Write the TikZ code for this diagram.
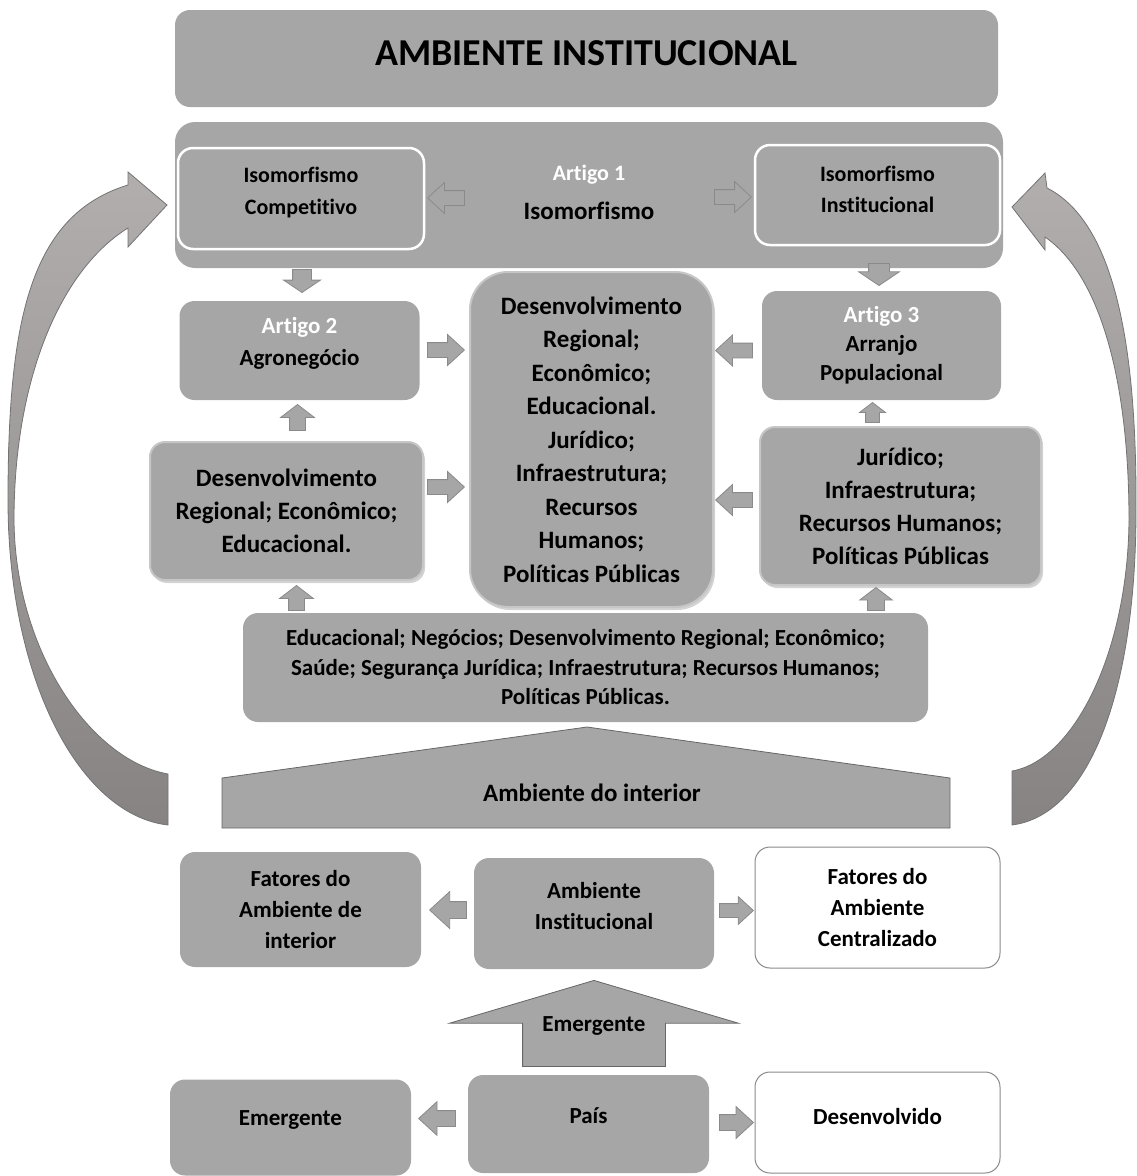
\documentclass[tikz,border=0pt]{standalone}
\usepackage{fontspec}
\setmainfont{Carlito}[Ligatures={NoCommon,NoContextual}]
\usetikzlibrary{shapes.arrows,shadows,positioning}

\definecolor{cinza}{HTML}{A6A6A6}
\definecolor{cinzaborda}{HTML}{8A8A8A}
\definecolor{cinzaseta}{HTML}{878383}
\definecolor{cinzasetaclaro}{HTML}{B2AEAE}

\newcommand{\fonte}[2]{\bfseries\fontsize{#1}{#2}\selectfont}

\tikzset{
  caixa/.style={fill=cinza, rounded corners=15pt, inner sep=0pt, align=center, font=\fonte{23}{31}},
  caixabranca/.style={caixa, fill=white, draw=cinzaborda, line width=1pt},
  caixaiso/.style={caixa, draw=white, line width=2.5pt},
  caixabisel/.style={caixa, draw=gray!45, line width=2pt,
    drop shadow={shadow xshift=2pt, shadow yshift=-3pt, opacity=.35}},
  seta/.style={single arrow, anchor=tip, fill=cinza, draw=cinzaborda, line width=.8pt, inner xsep=0pt, inner ysep=7pt,
    minimum width=0pt, minimum height=37pt, single arrow head extend=8pt, single arrow tip angle=85},
  setav/.style={seta, minimum height=25pt, inner ysep=7.5pt, single arrow head extend=9pt, single arrow tip angle=105},
  setacurva/.style={top color=cinzasetaclaro, bottom color=cinzaseta, draw=gray!90!black, line width=.8pt}
}

\begin{document}
\begin{tikzpicture}[x=1pt,y=-1pt]

\useasboundingbox (0,0) rectangle (1137,1176);

% Ambiente institucional
\node[caixa, minimum width=823pt, minimum height=97pt, font=\fonte{38}{40}, text depth=11pt] (titulo) at (586.5,58.5) {AMBIENTE INSTITUCIONAL};

% Artigo 1
\node[caixa, rounded corners=20pt, minimum width=828pt, minimum height=146pt] (iso) at (589,195) {};
\node[caixaiso, minimum width=246pt, minimum height=101pt, font=\fonte{22}{32}, text depth=16pt] (isocomp) at (301,198.5) {Isomorfismo\\Competitivo};
\node[caixaiso, minimum width=245pt, minimum height=100pt, font=\fonte{22}{31}, text depth=11pt] (isoinst) at (877.5,195) {Isomorfismo\\Institucional};
\node[align=center, font=\fonte{25}{30}, inner sep=0pt] (art1) at (589,192) {{\fontsize{22}{30}\selectfont\color{white}Artigo 1}\\[9pt]Isomorfismo};
\node[seta, rotate=180] (s1) at (427,198) {};
\node[seta] (s2) at (752,197) {};

\node[setav, rotate=-90, minimum height=23pt, inner ysep=9pt, single arrow tip angle=112] (s3) at (302,293) {};
\node[setav, rotate=-90, minimum height=22pt, inner ysep=10pt, single arrow head extend=10pt, single arrow tip angle=112] (s4) at (879,286) {};

% Artigos 2 e 3
\node[caixa, minimum width=240pt, minimum height=99pt, font=\fonte{23}{32}, text depth=18.5pt] (agro) at (299.5,350.5) {\textcolor{white}{Artigo 2}\\Agronegócio};
\node[caixabisel, rounded corners=38pt, minimum width=243pt, minimum height=335pt, font=\fonte{25}{33.5}] (centro) at (591.5,439.5)
  {Desenvolvimento\\Regional;\\Econômico;\\Educacional.\\Jurídico;\\Infraestrutura;\\Recursos\\Humanos;\\Políticas Públicas};
\node[caixa, minimum width=239pt, minimum height=109pt, font=\fonte{23}{29}] (arranjo) at (881.5,345.5) {\textcolor{white}{Artigo 3}\\Arranjo\\Populacional};

\node[caixabisel, minimum width=273pt, minimum height=138pt, font=\fonte{25}{33}] (esq) at (286.5,511) {Desenvolvimento\\Regional; Econômico;\\Educacional.};
\node[caixabisel, minimum width=281pt, minimum height=158pt, font=\fonte{25}{33}] (dir) at (900.5,506) {Jurídico;\\Infraestrutura;\\Recursos Humanos;\\Políticas Públicas};

\node[seta] (s5) at (465,350) {};
\node[seta] (s6) at (465,487) {};
\node[seta, rotate=180] (s7) at (715,350.5) {};
\node[seta, rotate=180] (s8) at (715,500) {};

\node[setav, rotate=90, minimum height=26pt] (s9) at (297.5,404) {};
\node[setav, rotate=90, minimum height=20pt, inner ysep=6.5pt, single arrow head extend=6pt] (s10) at (872.5,402) {};
\node[setav, rotate=90] (s11) at (296.5,585) {};
\node[setav, rotate=90, minimum height=23pt, inner ysep=8pt, single arrow head extend=8pt] (s12) at (876,587) {};

\node[caixa, minimum width=685pt, minimum height=109pt, font=\fonte{23}{29.5}] (largo) at (585.5,667.5)
  {Educacional; Negócios; Desenvolvimento Regional; Econômico;\\Saúde; Segurança Jurídica; Infraestrutura; Recursos Humanos;\\Políticas Públicas.};

% Ambiente do interior
\draw[fill=cinza, draw=gray!80!black, line width=.8pt] (222,828) -- (222,778) -- (587,727) -- (950,778) -- (950,828) -- cycle;
\node[font=\fonte{25}{30}, inner sep=0pt] (interior) at (592,793) {Ambiente do interior};

% Setas curvas
\draw[setacurva] (128,185) .. controls (30,215) and (8,320) .. (8,500)
  .. controls (8,680) and (80,815) .. (168,825) -- (168,774)
  .. controls (90,760) and (15,650) .. (14,520)
  .. controls (14,380) and (60,270) .. (128,228)
  -- (128,247) -- (167,205) -- (128,172) -- cycle;
\draw[setacurva] (1047,188) .. controls (1110,220) and (1137,330) .. (1136,510)
  .. controls (1136,690) and (1090,815) .. (1012,825) -- (1012,771)
  .. controls (1075,760) and (1128,650) .. (1129,520)
  .. controls (1129,380) and (1100,275) .. (1045,237)
  -- (1045,250) -- (1012,207) -- (1045,173) -- cycle;

% Ambiente institucional (baixo)
\node[caixa, minimum width=241pt, minimum height=115pt] (fatint) at (300.5,909.5) {Fatores do\\Ambiente de\\interior};
\node[caixa, minimum width=240pt, minimum height=111pt, text depth=16pt] (ambinst) at (594,913.5) {Ambiente\\Institucional};
\node[caixabranca, minimum width=245pt, minimum height=121pt] (fatcent) at (877.5,907.5) {Fatores do\\Ambiente\\Centralizado};
\node[seta, rotate=180, inner ysep=8pt, single arrow head extend=10pt] (s13) at (429,910) {};
\node[seta, minimum height=34pt, inner ysep=6.5pt, single arrow head extend=7pt] (s14) at (754,910.5) {};

% Emergente
\node[single arrow, anchor=tip, rotate=90, fill=cinza, draw=gray!80!black, line width=.8pt, inner xsep=0pt, inner ysep=71pt,
  minimum width=0pt, minimum height=86pt, single arrow head extend=73pt, single arrow tip angle=147] (semerg) at (594,980) {};
\node[font=\fonte{23}{30}, inner sep=0pt] (rotemerg) at (594,1026) {Emergente};

% País
\node[caixa, minimum width=241pt, minimum height=96pt, text depth=18.5pt] (emergente) at (290.5,1127.5) {Emergente};
\node[caixa, minimum width=241pt, minimum height=98pt, text depth=16pt] (pais) at (588.5,1124) {País};
\node[caixabranca, minimum width=245pt, minimum height=101pt, text depth=13pt] (desenv) at (877.5,1122.5) {Desenvolvido};
\node[seta, rotate=180, inner ysep=7.5pt, single arrow head extend=9pt] (s15) at (418,1118.5) {};
\node[seta, minimum height=34pt, inner ysep=7.5pt, single arrow head extend=8pt] (s16) at (754,1122.5) {};

\end{tikzpicture}
\end{document}
